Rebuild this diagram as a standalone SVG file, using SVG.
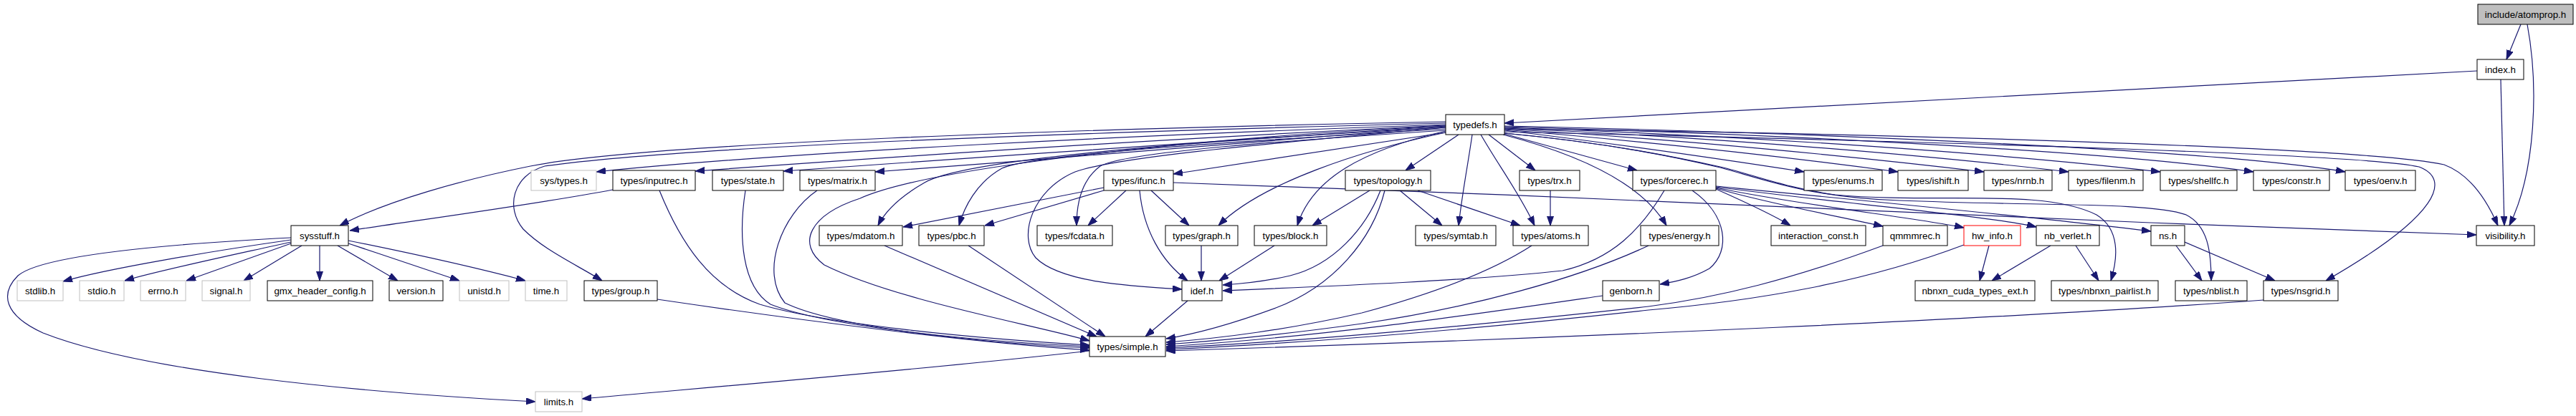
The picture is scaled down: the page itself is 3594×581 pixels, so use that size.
<svg xmlns="http://www.w3.org/2000/svg" width="3594" height="581" viewBox="0 0 3594 581">
<style>
.n rect{fill:#fff;stroke:#000;stroke-width:1}
.s rect{fill:#fff;stroke:#bfbfbf;stroke-width:1}
.r rect{stroke:#f00}
.root rect{fill:#bfbfbf}
text{font-family:"Liberation Sans",Arial,Helvetica,sans-serif;font-size:13.33px;fill:#000;text-anchor:middle}
#edges path{fill:none;stroke:#191970;stroke-width:1.2;marker-end:url(#ah)}
</style>
<defs>
<marker id="ah" markerUnits="userSpaceOnUse" markerWidth="13" markerHeight="10" refX="13" refY="4.5" orient="auto">
<path d="M0,0 L13,4.5 L0,9 z" fill="#191970" stroke="#191970" stroke-width="1"/>
</marker>
</defs>
<rect width="3594" height="581" fill="#fff"/>
<g id="edges">
<path d="M3517,34 L3497,83"/>
<path d="M3526,34 C3542,120 3538,240 3501,315"/>
<path d="M3456,99 L2099,172"/>
<path d="M3489,111 L3494,315"/>
<path d="M2099,180 C2600,186 3300,205 3410,230 C3450,245 3472,285 3485,315"/>
<path d="M2099,182 C2250,200 2400,222 2517,240"/>
<path d="M2099,181 C2300,198 2500,220 2648,240"/>
<path d="M2099,180 C2350,195 2600,220 2768,240"/>
<path d="M2099,179 C2400,192 2700,218 2886,240"/>
<path d="M2099,178 C2450,190 2800,215 3014,240"/>
<path d="M2099,177 C2500,188 2950,212 3144,240"/>
<path d="M2099,176 C2550,186 3100,210 3272,240"/>
<path d="M2099,184 C2700,198 3300,215 3375,233 C3420,250 3405,300 3245,392"/>
<path d="M2099,186 C2250,200 2350,222 2400,234 C2460,250 2520,275 2650,280 C2850,288 3000,282 3050,300 C3080,315 3085,350 3085,392"/>
<path d="M2099,186 C2250,200 2350,222 2400,233 C2450,245 2490,262 2560,272 C2700,285 2850,262 2925,300 C2958,320 2955,360 2945,392"/>
<path d="M2099,187 L2284,238"/>
<path d="M2097,188 C2200,215 2290,255 2325,315"/>
<path d="M2077,188 L2142,238"/>
<path d="M2066,188 C2090,230 2120,270 2141,315"/>
<path d="M2054,188 C2048,230 2040,270 2035,315"/>
<path d="M2035,188 L1961,238"/>
<path d="M2017,183 C1900,210 1830,250 1810,315"/>
<path d="M2017,185 C1900,210 1760,255 1700,315"/>
<path d="M2017,178 C1800,198 1560,218 1500,240 C1440,265 1420,330 1445,360 C1480,395 1580,400 1649,404"/>
<path d="M2017,170 C1500,180 900,200 740,232 C650,250 540,280 474,315"/>
<path d="M2017,172 C1500,185 950,205 760,232 C715,245 705,290 730,320 C760,350 805,370 840,392"/>
<path d="M2017,174 C1600,188 1100,212 832,240"/>
<path d="M2017,175 C1700,190 1300,215 970,239"/>
<path d="M2017,176 C1750,192 1400,218 1093,239"/>
<path d="M2017,177 C1800,194 1500,220 1221,240"/>
<path d="M2017,178 C1700,195 1350,220 1290,255 C1255,275 1235,295 1225,315"/>
<path d="M2017,180 C1750,196 1440,215 1398,235 C1362,255 1345,290 1338,315"/>
<path d="M2017,182 C1800,196 1570,212 1535,232 C1508,252 1502,285 1502,315"/>
<path d="M2017,185 L1637,243"/>
<path d="M2017,176 C1700,190 1300,232 1200,277 C1130,300 1110,340 1150,370 C1250,420 1450,455 1520,476"/>
<path d="M855,265 C750,285 600,305 488,322"/>
<path d="M920,266 C950,340 990,400 1060,425 C1150,452 1350,472 1520,482"/>
<path d="M1040,266 C1030,330 1035,400 1075,425 C1150,455 1350,476 1520,484"/>
<path d="M1140,266 C1090,300 1060,380 1095,423 C1160,455 1350,478 1520,486"/>
<path d="M917,418 C1100,445 1350,478 1520,489"/>
<path d="M1234,343 L1530,470"/>
<path d="M1351,343 L1542,470"/>
<path d="M1657,420 L1598,470"/>
<path d="M1540,262 L1260,317"/>
<path d="M1540,266 L1374,315"/>
<path d="M1571,266 L1518,315"/>
<path d="M1606,266 L1659,315"/>
<path d="M1590,266 C1595,320 1620,365 1657,392"/>
<path d="M1637,255 C2100,270 2700,298 3000,311 C3200,319 3350,325 3455,328"/>
<path d="M1676,343 L1676,392"/>
<path d="M1778,343 L1701,392"/>
<path d="M1911,266 L1831,315"/>
<path d="M1953,266 L2012,315"/>
<path d="M1978,266 L2121,315"/>
<path d="M1926,266 C1905,320 1860,370 1800,385 C1770,392 1740,396 1706,398"/>
<path d="M1932,266 C1915,335 1860,400 1780,430 C1720,452 1670,466 1627,473"/>
<path d="M2163,266 L2163,315"/>
<path d="M2137,343 C2080,380 2000,410 1900,437 C1800,460 1700,473 1627,478"/>
<path d="M2300,343 C2200,390 2050,430 1900,452 C1800,466 1700,476 1627,481"/>
<path d="M2322,266 C2290,320 2250,362 2180,378 C2050,392 1850,400 1706,406"/>
<path d="M2361,266 C2410,300 2415,350 2385,375 C2362,388 2340,393 2316,397"/>
<path d="M2394,264 C2430,280 2470,298 2498,315"/>
<path d="M2394,263 C2470,285 2570,303 2627,316"/>
<path d="M2394,262 C2500,285 2680,305 2740,318"/>
<path d="M2394,261 C2550,282 2780,302 2841,317"/>
<path d="M2394,260 C2600,280 2860,305 3001,323"/>
<path d="M2861,343 L2779,392"/>
<path d="M2896,343 L2928,392"/>
<path d="M2775,343 L2762,392"/>
<path d="M3036,343 L3072,392"/>
<path d="M3048,338 L3174,392"/>
<path d="M2236,413 C2050,440 1850,470 1627,484"/>
<path d="M2627,343 C2500,390 2400,415 2300,428 C2100,450 1850,475 1627,486"/>
<path d="M2740,342 C2600,395 2450,420 2300,433 C2100,455 1850,478 1627,488"/>
<path d="M3158,419 C2800,445 2200,472 1627,490"/>
<path d="M1520,490 C1300,515 1000,540 812,557"/>
<path d="M406,332 C250,340 60,355 25,385 C0,410 5,440 60,465 C200,520 500,548 747,561"/>
<path d="M406,335 C300,350 150,375 88,393"/>
<path d="M406,338 C330,355 220,378 174,392"/>
<path d="M406,340 L260,392"/>
<path d="M421,343 L340,392"/>
<path d="M446,343 L446,392"/>
<path d="M471,343 L555,392"/>
<path d="M486,340 C540,358 600,378 641,392"/>
<path d="M486,336 C580,355 680,378 733,392"/>
</g>
<g id="n_atomprop" class="n root"><rect x="3457" y="6" width="133" height="28"/><text x="3523.5" y="24.8">include/atomprop.h</text></g>
<g id="n_index" class="n"><rect x="3456" y="83" width="65" height="28"/><text x="3488.5" y="101.8">index.h</text></g>
<g id="n_typedefs" class="n"><rect x="2017" y="160" width="82" height="28"/><text x="2058" y="178.8">typedefs.h</text></g>
<g id="n_systypes" class="s"><rect x="741" y="238" width="91" height="28"/><text x="786.5" y="256.8">sys/types.h</text></g>
<g id="n_inputrec" class="n"><rect x="855" y="238" width="115" height="28"/><text x="912.5" y="256.8">types/inputrec.h</text></g>
<g id="n_state" class="n"><rect x="994" y="238" width="99" height="28"/><text x="1043.5" y="256.8">types/state.h</text></g>
<g id="n_matrix" class="n"><rect x="1116" y="238" width="105" height="28"/><text x="1168.5" y="256.8">types/matrix.h</text></g>
<g id="n_ifunc" class="n"><rect x="1540" y="238" width="97" height="28"/><text x="1588.5" y="256.8">types/ifunc.h</text></g>
<g id="n_topology" class="n"><rect x="1877" y="238" width="119" height="28"/><text x="1936.5" y="256.8">types/topology.h</text></g>
<g id="n_trx" class="n"><rect x="2120" y="238" width="84" height="28"/><text x="2162" y="256.8">types/trx.h</text></g>
<g id="n_forcerec" class="n"><rect x="2278" y="238" width="116" height="28"/><text x="2336" y="256.8">types/forcerec.h</text></g>
<g id="n_enums" class="n"><rect x="2517" y="238" width="109" height="28"/><text x="2571.5" y="256.8">types/enums.h</text></g>
<g id="n_ishift" class="n"><rect x="2648" y="238" width="98" height="28"/><text x="2697" y="256.8">types/ishift.h</text></g>
<g id="n_nrnb" class="n"><rect x="2768" y="238" width="95" height="28"/><text x="2815.5" y="256.8">types/nrnb.h</text></g>
<g id="n_filenm" class="n"><rect x="2886" y="238" width="104" height="28"/><text x="2938" y="256.8">types/filenm.h</text></g>
<g id="n_shellfc" class="n"><rect x="3014" y="238" width="107" height="28"/><text x="3067.5" y="256.8">types/shellfc.h</text></g>
<g id="n_constr" class="n"><rect x="3144" y="238" width="106" height="28"/><text x="3197" y="256.8">types/constr.h</text></g>
<g id="n_oenv" class="n"><rect x="3272" y="238" width="98" height="28"/><text x="3321" y="256.8">types/oenv.h</text></g>
<g id="n_sysstuff" class="n"><rect x="406" y="315" width="80" height="28"/><text x="446" y="333.8">sysstuff.h</text></g>
<g id="n_mdatom" class="n"><rect x="1143" y="315" width="116" height="28"/><text x="1201" y="333.8">types/mdatom.h</text></g>
<g id="n_pbc" class="n"><rect x="1282" y="315" width="91" height="28"/><text x="1327.5" y="333.8">types/pbc.h</text></g>
<g id="n_fcdata" class="n"><rect x="1447" y="315" width="105" height="28"/><text x="1499.5" y="333.8">types/fcdata.h</text></g>
<g id="n_graph" class="n"><rect x="1626" y="315" width="101" height="28"/><text x="1676.5" y="333.8">types/graph.h</text></g>
<g id="n_block" class="n"><rect x="1750" y="315" width="101" height="28"/><text x="1800.5" y="333.8">types/block.h</text></g>
<g id="n_symtab" class="n"><rect x="1975" y="315" width="112" height="28"/><text x="2031" y="333.8">types/symtab.h</text></g>
<g id="n_atoms" class="n"><rect x="2111" y="315" width="105" height="28"/><text x="2163.5" y="333.8">types/atoms.h</text></g>
<g id="n_energy" class="n"><rect x="2289" y="315" width="109" height="28"/><text x="2343.5" y="333.8">types/energy.h</text></g>
<g id="n_interaction_const" class="n"><rect x="2471" y="315" width="132" height="28"/><text x="2537" y="333.8">interaction_const.h</text></g>
<g id="n_qmmmrec" class="n"><rect x="2627" y="315" width="90" height="28"/><text x="2672" y="333.8">qmmmrec.h</text></g>
<g id="n_hw_info" class="n r"><rect x="2740" y="315" width="79" height="28"/><text x="2779.5" y="333.8">hw_info.h</text></g>
<g id="n_nb_verlet" class="n"><rect x="2841" y="315" width="88" height="28"/><text x="2885" y="333.8">nb_verlet.h</text></g>
<g id="n_ns" class="n"><rect x="3001" y="315" width="47" height="28"/><text x="3024.5" y="333.8">ns.h</text></g>
<g id="n_visibility" class="n"><rect x="3455" y="315" width="81" height="28"/><text x="3495.5" y="333.8">visibility.h</text></g>
<g id="n_stdlib" class="s"><rect x="24" y="392" width="64" height="28"/><text x="56" y="410.8">stdlib.h</text></g>
<g id="n_stdio" class="s"><rect x="111" y="392" width="62" height="28"/><text x="142" y="410.8">stdio.h</text></g>
<g id="n_errno" class="s"><rect x="196" y="392" width="63" height="28"/><text x="227.5" y="410.8">errno.h</text></g>
<g id="n_signal" class="s"><rect x="282" y="392" width="67" height="28"/><text x="315.5" y="410.8">signal.h</text></g>
<g id="n_gmx_header_config" class="n"><rect x="373" y="392" width="147" height="28"/><text x="446.5" y="410.8">gmx_header_config.h</text></g>
<g id="n_version" class="n"><rect x="543" y="392" width="75" height="28"/><text x="580.5" y="410.8">version.h</text></g>
<g id="n_unistd" class="s"><rect x="641" y="392" width="69" height="28"/><text x="675.5" y="410.8">unistd.h</text></g>
<g id="n_time" class="s"><rect x="733" y="392" width="58" height="28"/><text x="762" y="410.8">time.h</text></g>
<g id="n_group" class="n"><rect x="815" y="392" width="102" height="28"/><text x="866" y="410.8">types/group.h</text></g>
<g id="n_idef" class="n"><rect x="1649" y="392" width="56" height="28"/><text x="1677" y="410.8">idef.h</text></g>
<g id="n_genborn" class="n"><rect x="2236" y="392" width="79" height="28"/><text x="2275.5" y="410.8">genborn.h</text></g>
<g id="n_cuda_ext" class="n"><rect x="2672" y="392" width="167" height="28"/><text x="2755.5" y="410.8">nbnxn_cuda_types_ext.h</text></g>
<g id="n_pairlist" class="n"><rect x="2862" y="392" width="149" height="28"/><text x="2936.5" y="410.8">types/nbnxn_pairlist.h</text></g>
<g id="n_nblist" class="n"><rect x="3035" y="392" width="100" height="28"/><text x="3085" y="410.8">types/nblist.h</text></g>
<g id="n_nsgrid" class="n"><rect x="3158" y="392" width="104" height="28"/><text x="3210" y="410.8">types/nsgrid.h</text></g>
<g id="n_simple" class="n"><rect x="1520" y="470" width="106" height="28"/><text x="1573" y="488.8">types/simple.h</text></g>
<g id="n_limits" class="s"><rect x="747" y="547" width="65" height="28"/><text x="779.5" y="565.8">limits.h</text></g>
</svg>
